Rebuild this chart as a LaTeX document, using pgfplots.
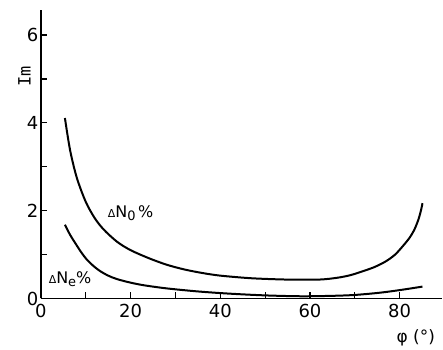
\documentclass[border=0pt]{standalone}
\usepackage{fontspec}
\setmainfont{DejaVu Sans}
\newfontfamily\monof{DejaVu Sans Mono}
\usepackage{pgfplots}
\pgfplotsset{compat=1.18}
\begin{document}
\begin{tikzpicture}
\begin{axis}[
  scale only axis, width=402pt, height=289pt,
  xmin=0, xmax=89.5, ymin=0, ymax=6.57,
  axis lines=left, axis line style={-, line width=1.6pt},
  xtick={0,10,...,80}, xticklabels={0,,20,,40,,60,,80},
  ytick={0,1,...,6}, yticklabels={0,,2,,4,,6},
  tick align=inside, major tick length=6pt, tick style={line width=1.2pt, black},
  ticklabel style={font=\fontsize{18}{18}\selectfont},
  xticklabel style={yshift=-2pt},
  yticklabel style={xshift=1pt},
  /pgf/number format/assume math mode=true,
  clip=false,
]
\addplot[black, line width=2pt, smooth] coordinates {
(5.35,4.11) (6.5,3.38) (8,2.75) (10,2.2) (12,1.83) (14,1.57) (17,1.29)
(20,1.10) (24,0.92) (28,0.77) (32,0.66) (36,0.58) (40,0.52) (47,0.46)
(55,0.43) (62,0.43) (66,0.47) (69,0.53) (71.8,0.62) (74.5,0.72) (77,0.85)
(79,1.0) (80.7,1.19) (82.2,1.38) (83.3,1.57) (84.2,1.8) (84.8,2.02) (85.1,2.17)
};
\addplot[black, line width=2pt, smooth] coordinates {
(5.35,1.68) (6.5,1.45) (7.6,1.27) (9,1.05) (10.2,0.89) (11.6,0.75) (13.1,0.63)
(15,0.52) (17,0.44) (20,0.36) (23,0.30) (28,0.23) (35,0.16) (42,0.11)
(50,0.07) (58,0.05) (65,0.06) (70,0.08) (75.5,0.13) (80,0.19) (85.1,0.27)
};
\node[font=\fontsize{16}{16}\selectfont] at (axis cs:20,1.95) {{\fontsize{11}{11}\selectfont Δ}N\raisebox{-0.35ex}{\fontsize{13}{13}\selectfont 0}\,\%};
\node[font=\fontsize{16}{16}\selectfont] at (axis cs:6.5,0.45) {{\fontsize{11}{11}\selectfont Δ}N\raisebox{-0.35ex}{\fontsize{13}{13}\selectfont e}\%};
\node[font=\fontsize{17}{17}\selectfont\monof, rotate=90] at (axis cs:-3.7,5.05) {Im};
\node[font=\fontsize{17}{17}\selectfont] at (axis cs:83.6,-0.9) {φ (°)};
\end{axis}
\path (-41pt,-46pt) rectangle (402pt,299pt);
\end{tikzpicture}
\end{document}
